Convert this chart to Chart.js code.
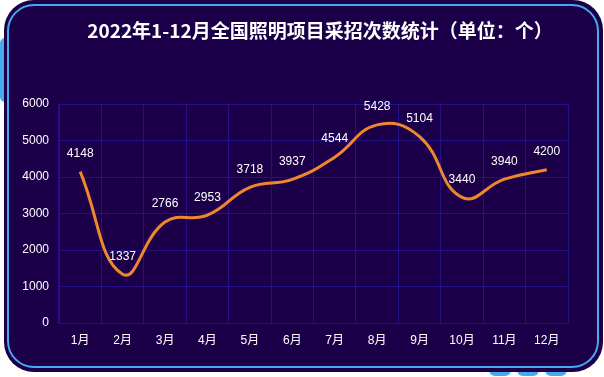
<!DOCTYPE html>
<html>
<head>
<meta charset="utf-8">
<script src="https://cdn.jsdelivr.net/npm/chart.js@4"></script>
<style>
  html, body { margin: 0; padding: 0; background: #fff; }
  #wrap { width: 604px; height: 377px; position: relative; }
</style>
</head>
<body>
<div id="wrap"><canvas id="c" width="604" height="377"></canvas></div>
<script>
// ---- data ----
const MONTHS = ['1月', '2月', '3月', '4月', '5月', '6月', '7月', '8月', '9月', '10月', '11月', '12月'];
const COUNTS = [4148, 1337, 2766, 2953, 3718, 3937, 4544, 5428, 5104, 3440, 3940, 4200];
const TITLE = '2022年1-12月全国照明项目采招次数统计（单位：个）';

const BG = '#1b0049';
const EDGE = '#4aa8ee';
const GRID = '#241187';
const LINE = '#f0862e';
const FONT = '"Liberation Sans", "Noto Sans CJK SC", sans-serif';
const TITLE_FONT = '"Noto Sans CJK SC", "Noto Sans", sans-serif';

function roundRect(ctx, x, y, w, h, r) {
  ctx.beginPath();
  ctx.moveTo(x + r, y);
  ctx.arcTo(x + w, y, x + w, y + h, r);
  ctx.arcTo(x + w, y + h, x, y + h, r);
  ctx.arcTo(x, y + h, x, y, r);
  ctx.arcTo(x, y, x + w, y, r);
  ctx.closePath();
}

// frame + title behind the chart
const framePlugin = {
  id: 'frame',
  beforeDraw(chart) {
    const ctx = chart.ctx;
    ctx.save();
    // light-blue bits peeking out from behind the panel
    ctx.fillStyle = EDGE;
    roundRect(ctx, 0, 38, 20, 64, 5); ctx.fill();
    [489, 517, 545].forEach(x => { roundRect(ctx, x, 362, 22, 14, 6); ctx.fill(); });
    // dark panel
    ctx.fillStyle = BG;
    roundRect(ctx, 4, 0, 599, 372, 30); ctx.fill();
    // inner light-blue line
    ctx.strokeStyle = EDGE;
    ctx.lineWidth = 2;
    roundRect(ctx, 8, 5, 590, 362, 26); ctx.stroke();
    // title
    ctx.fillStyle = '#ffffff';
    ctx.font = 'bold 19px ' + TITLE_FONT;
    ctx.textAlign = 'center';
    ctx.textBaseline = 'middle';
    ctx.fillText(TITLE, 320, 31);
    ctx.restore();
  }
};

// value labels above each point
const labelPlugin = {
  id: 'valueLabels',
  afterDatasetsDraw(chart) {
    const ctx = chart.ctx;
    const meta = chart.getDatasetMeta(0);
    ctx.save();
    ctx.fillStyle = '#ffffff';
    ctx.font = '12px ' + FONT;
    ctx.textAlign = 'center';
    ctx.textBaseline = 'middle';
    meta.data.forEach((pt, i) => {
      ctx.fillText(String(COUNTS[i]), pt.x, pt.y - 18);
    });
    ctx.restore();
  }
};

new Chart(document.getElementById('c'), {
  type: 'line',
  data: {
    labels: MONTHS,
    datasets: [{
      data: COUNTS,
      borderColor: LINE,
      borderWidth: 3,
      tension: 0.45,
      pointRadius: 0,
      fill: false,
    }],
  },
  options: {
    responsive: false,
    animation: false,
    layout: { padding: { left: 0, right: 36, top: 104, bottom: 0 } },
    plugins: { legend: { display: false }, tooltip: { enabled: false }, title: { display: false } },
    scales: {
      x: {
        offset: true,
        grid: { color: GRID, drawTicks: false, offset: true },
        border: { color: GRID },
        ticks: { color: '#ffffff', font: { size: 12, family: FONT }, padding: 10 },
        afterFit: s => { s.height = 54; },
      },
      y: {
        min: 0, max: 6000,
        ticks: { stepSize: 1000, color: '#ffffff', font: { size: 12, family: FONT }, padding: 10,
          callback: v => String(v) },
        grid: { color: GRID, drawTicks: false },
        border: { color: GRID },
        afterFit: s => { s.width = 59; },
      },
    },
  },
  plugins: [framePlugin, labelPlugin],
});
</script>
</body>
</html>
